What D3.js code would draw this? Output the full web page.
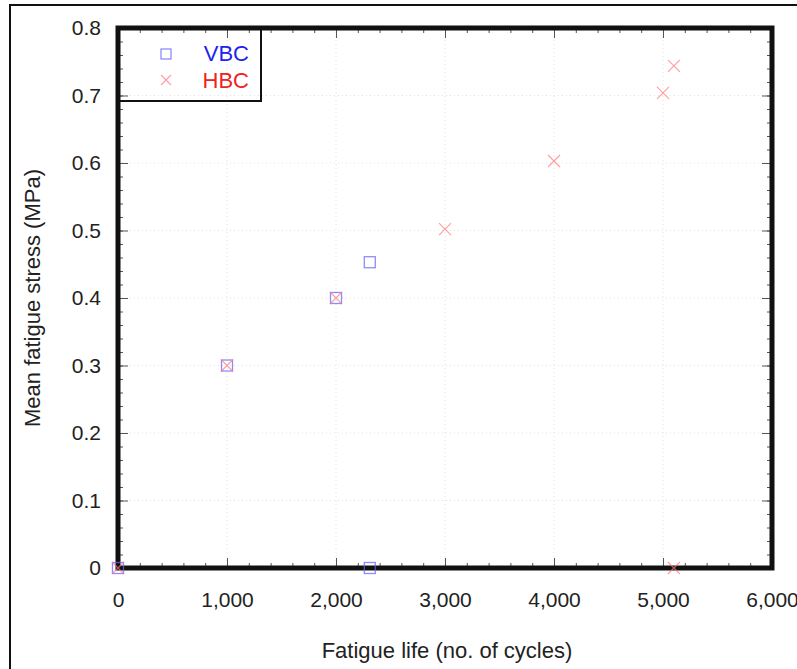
<!DOCTYPE html>
<html><head><meta charset="utf-8">
<script src="https://cdn.jsdelivr.net/npm/d3@7"></script>
<style>body{margin:0;background:#fff;} text{font-family:"Liberation Sans",Arial,sans-serif;}</style>
</head><body><svg id="c" width="797" height="669"></svg>
<script>
const vbcX = [0, 1000, 2000, 2310, 2310];
const vbcY = [0, 0.3, 0.4, 0.453, 0];
const hbcX = [0, 1000, 2000, 3000, 4000, 5000, 5100, 5100];
const hbcY = [0, 0.3, 0.4, 0.502, 0.603, 0.704, 0.744, 0];
const xTicks = [0, 1000, 2000, 3000, 4000, 5000, 6000];
const yTicks = [0, 0.1, 0.2, 0.3, 0.4, 0.5, 0.6, 0.7, 0.8];
const seriesNames = ["VBC", "HBC"];

const svg = d3.select("#c");
const L = 118, R = 772, T = 28, B = 568;
const x = d3.scaleLinear().domain([0, 6000]).range([L, R]);
const y = d3.scaleLinear().domain([0, 0.8]).range([B, T]);

// outer border
svg.append("rect").attr("x", 10).attr("y", 5).attr("width", 800).attr("height", 700)
  .attr("fill", "none").attr("stroke", "#111").attr("stroke-width", 2);

// grid
const g = svg.append("g");
g.selectAll(".gx").data(xTicks.slice(1, -1)).join("line")
  .attr("x1", d => x(d)).attr("x2", d => x(d)).attr("y1", T).attr("y2", B)
  .attr("stroke", "#e2e2e2").attr("stroke-width", 1).attr("stroke-dasharray", "1,3");
g.selectAll(".gy").data(yTicks.slice(1, -1)).join("line")
  .attr("y1", d => y(d)).attr("y2", d => y(d)).attr("x1", L).attr("x2", R)
  .attr("stroke", "#e2e2e2").attr("stroke-width", 1).attr("stroke-dasharray", "1,3");

// ticks (inward) on all four sides
const xMinor = d3.range(0, 6001, 200);
const yMinor = d3.range(0, 0.8001, 0.02);
function addAxis(axis, tr) {
  const a = svg.append("g").attr("transform", tr).call(axis);
  a.select(".domain").remove();
  a.selectAll("line").attr("stroke", "#555").attr("stroke-width", 1);
  return a;
}
addAxis(d3.axisTop(x).tickValues(xMinor).tickSize(5).tickFormat(""), `translate(0,${B})`);
addAxis(d3.axisTop(x).tickValues(xTicks).tickSize(10).tickFormat(""), `translate(0,${B})`);
addAxis(d3.axisBottom(x).tickValues(xMinor).tickSize(5).tickFormat(""), `translate(0,${T})`);
addAxis(d3.axisBottom(x).tickValues(xTicks).tickSize(10).tickFormat(""), `translate(0,${T})`);
addAxis(d3.axisRight(y).tickValues(yMinor).tickSize(5).tickFormat(""), `translate(${L},0)`);
addAxis(d3.axisRight(y).tickValues(yTicks).tickSize(10).tickFormat(""), `translate(${L},0)`);
addAxis(d3.axisLeft(y).tickValues(yMinor).tickSize(5).tickFormat(""), `translate(${R},0)`);
addAxis(d3.axisLeft(y).tickValues(yTicks).tickSize(10).tickFormat(""), `translate(${R},0)`);

// tick labels
const xl = svg.append("g").attr("transform", `translate(0,${B})`)
  .call(d3.axisBottom(x).tickValues(xTicks).tickSize(0).tickPadding(24).tickFormat(d3.format(",")));
xl.select(".domain").remove();
xl.selectAll("text").attr("font-size", 21).attr("fill", "#222").attr("font-family", "Liberation Sans, Arial, sans-serif");
const yl = svg.append("g").attr("transform", `translate(${L},0)`)
  .call(d3.axisLeft(y).tickValues(yTicks).tickSize(0).tickPadding(17).tickFormat(d => d === 0 ? "0" : d3.format(".1f")(d)));
yl.select(".domain").remove();
yl.selectAll("text").attr("font-size", 21).attr("fill", "#222").attr("font-family", "Liberation Sans, Arial, sans-serif");

// frame
svg.append("rect").attr("x", L).attr("y", T).attr("width", R - L).attr("height", B - T)
  .attr("fill", "none").attr("stroke", "#111").attr("stroke-width", 5);

// markers
const sq = 11, cr = 6;
svg.append("g").selectAll("rect").data(vbcX.map((d, i) => [d, vbcY[i]])).join("rect")
  .attr("x", d => x(d[0]) - sq / 2).attr("y", d => y(d[1]) - sq / 2)
  .attr("width", sq).attr("height", sq).attr("fill", "none")
  .attr("stroke", "#6666ff").attr("stroke-opacity", 0.75).attr("stroke-width", 1.3);
svg.append("g").selectAll("path").data(hbcX.map((d, i) => [d, hbcY[i]])).join("path")
  .attr("d", d => `M${x(d[0]) - cr},${y(d[1]) - cr}L${x(d[0]) + cr},${y(d[1]) + cr}M${x(d[0]) - cr},${y(d[1]) + cr}L${x(d[0]) + cr},${y(d[1]) - cr}`)
  .attr("fill", "none").attr("stroke", "#ff7777").attr("stroke-opacity", 0.7).attr("stroke-width", 1.2);

// legend
svg.append("path").attr("d", `M${L},101H261V${T}`).attr("fill", "none").attr("stroke", "#111").attr("stroke-width", 2);
svg.append("rect").attr("x", 161).attr("y", 49).attr("width", 10).attr("height", 10)
  .attr("fill", "none").attr("stroke", "#6666ff").attr("stroke-opacity", 0.75).attr("stroke-width", 1.3);
svg.append("path").attr("d", "M161,75L171,85M161,85L171,75")
  .attr("fill", "none").attr("stroke", "#ff7777").attr("stroke-opacity", 0.7).attr("stroke-width", 1.2);
const legColors = ["#2222ee", "#ee2222"];
svg.append("g").selectAll("text").data(seriesNames).join("text")
  .attr("x", 249).attr("y", (d, i) => 61 + i * 27).attr("text-anchor", "end")
  .attr("font-size", 22).attr("fill", (d, i) => legColors[i]).text(d => d);

// axis titles
svg.append("text").attr("x", 447).attr("y", 658).attr("text-anchor", "middle")
  .attr("font-size", 22).attr("fill", "#222").text("Fatigue life (no. of cycles)");
svg.append("text").attr("transform", "translate(40,298) rotate(-90)").attr("text-anchor", "middle")
  .attr("font-size", 22).attr("fill", "#222").text("Mean fatigue stress (MPa)");
</script></body></html>
